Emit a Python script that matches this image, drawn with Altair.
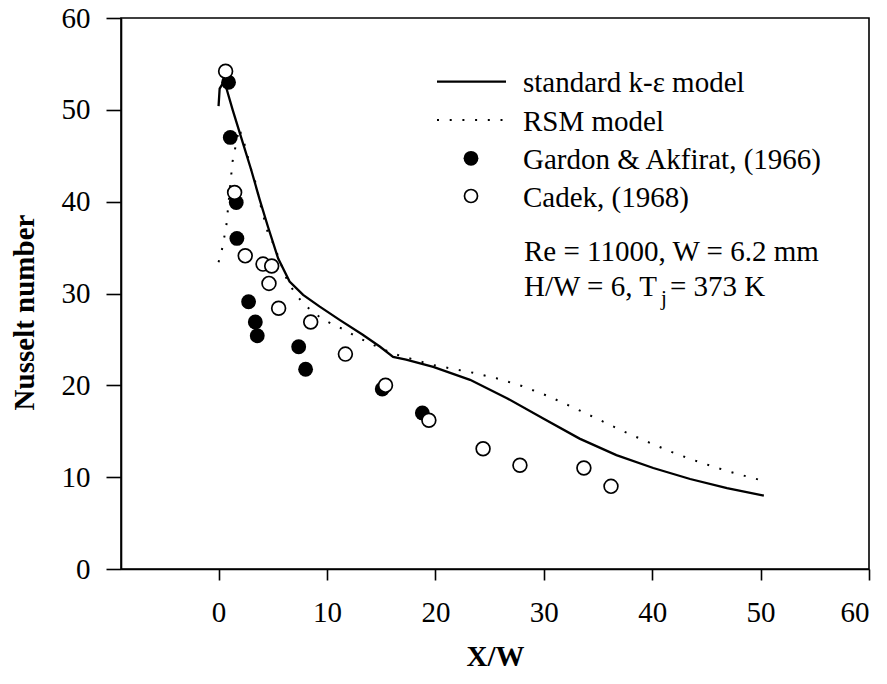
import altair as alt
import pandas as pd

# ---- data ----
ke_x = [0.0, 0.1, 0.35, 0.71, 1.3, 2.24, 3.0, 3.8, 4.55, 5.5, 6.55, 7.8, 9.3, 11.2, 13.3, 14.9,
        16.1, 17.3, 19.8, 23.2, 26.6, 29.95, 33.3, 36.7, 40.1, 43.5, 46.9, 50.3]
ke_nu = [50.4, 52.3, 52.8, 52.4, 50.0, 46.4, 43.5, 40.2, 37.3, 33.8, 31.3, 29.85, 28.6, 27.1, 25.5, 24.2,
         23.1, 22.8, 22.0, 20.6, 18.6, 16.4, 14.2, 12.4, 11.0, 9.8, 8.8, 8.0]

rsm_x = [0.0, 0.3, 0.71, 1.17, 1.26, 1.48, 1.9, 2.46, 3.0, 3.4, 3.9, 4.55, 5.1, 6.4, 7.1, 7.8, 8.7,
         9.6, 10.6, 11.7, 12.7, 15.0, 16.25, 19.73, 23.27, 25.64, 27.98, 30.35, 32.69, 35.03, 37.4,
         39.74, 42.08, 44.41, 46.79, 49.12, 50.32]
rsm_nu = [33.4, 34.7, 37.3, 42.9, 44.2, 45.5, 48.0, 46.0, 43.5, 42.1, 39.5, 36.6, 35.3, 31.2, 30.0, 28.9, 28.0,
          27.2, 26.6, 26.0, 25.3, 24.0, 23.4, 22.22, 21.42, 20.77, 19.93, 18.85, 17.61, 16.3, 14.96,
          13.76, 12.6, 11.62, 10.71, 9.95, 9.59]

gardon_x = [0.92, 1.08, 1.63, 1.69, 2.77, 3.39, 3.57, 7.39, 8.03, 15.1, 18.8]
gardon_nu = [53.0, 47.0, 39.9, 36.0, 29.1, 26.9, 25.4, 24.2, 21.75, 19.6, 17.0]

cadek_x = [0.65, 1.48, 2.46, 4.1, 4.9, 4.65, 5.54, 8.5, 11.7, 15.4, 19.4, 24.4, 27.8, 33.7, 36.2]
cadek_nu = [54.2, 41.0, 34.1, 33.2, 33.0, 31.1, 28.4, 26.9, 23.4, 20.0, 16.2, 13.1, 11.3, 11.0, 9.0]

x_ticks = [0, 10, 20, 30, 40, 50, 60]
y_ticks = [0, 10, 20, 30, 40, 50, 60]

legend_labels = ["standard k-\u03b5 model", "RSM model", "Gardon & Akfirat, (1966)", "Cadek, (1968)"]
note_line1 = "Re = 11000, W = 6.2 mm"
note_line2 = ["H/W = 6, T", "j", "= 373 K"]

FONT = "Liberation Serif"
FS = 29

ke = pd.DataFrame({"x": ke_x, "nu": ke_nu, "o": range(len(ke_x))})
rsm = pd.DataFrame({"x": rsm_x, "nu": rsm_nu, "o": range(len(rsm_x))})
gardon = pd.DataFrame({"x": gardon_x, "nu": gardon_nu})
cadek = pd.DataFrame({"x": cadek_x, "nu": cadek_nu})
one = pd.DataFrame({"k": [0]})


def X():
    return alt.X("x:Q", scale=alt.Scale(domain=[-9, 60], nice=False, zero=False),
                 axis=alt.Axis(values=x_ticks, title="X/W", tickSize=11, labelPadding=41,
                               labelBaseline="alphabetic", titleBaseline="alphabetic",
                               titleY=96, format="d"))


def Y():
    return alt.Y("nu:Q", scale=alt.Scale(domain=[0, 60], nice=False),
                 axis=alt.Axis(values=y_ticks, title="Nusselt number", tickSize=15, labelPadding=16,
                               titleAngle=270, titleBaseline="alphabetic", titleX=-88, titleY=294,
                               titleAlign="center", format="d"))


line_ke = alt.Chart(ke).mark_line(color="black", strokeWidth=2.3).encode(x=X(), y=Y(), order="o:Q")
line_rsm = alt.Chart(rsm).mark_line(color="black", strokeWidth=2, strokeDash=[2, 10.7]).encode(
    x=X(), y=Y(), order="o:Q")
pts_g = alt.Chart(gardon).mark_circle(color="black", size=220, opacity=1).encode(x=X(), y=Y())
pts_c = alt.Chart(cadek).mark_point(shape="circle", filled=True, fill="white", stroke="black",
                                    strokeWidth=1.7, size=190, opacity=1).encode(x=X(), y=Y())

# ---- in-plot legend (pixel layout, offsets from plot origin 121,18) ----
ROW_Y = [81.7, 120, 158.3, 196]
BASE_Y = [92.3, 130.5, 168.8, 207]
TXT_X = 523

leg_ke = alt.Chart(one).mark_rule(color="black", strokeWidth=2.3).encode(
    x=alt.value(437 - 121), x2=alt.value(506 - 121), y=alt.value(ROW_Y[0] - 18))
leg_rsm = alt.Chart(one).mark_rule(color="black", strokeWidth=2, strokeDash=[2, 10.7]).encode(
    x=alt.value(437 - 121), x2=alt.value(506 - 121), y=alt.value(ROW_Y[1] - 18))
leg_g = alt.Chart(one).mark_circle(color="black", size=220, opacity=1).encode(
    x=alt.value(471 - 121), y=alt.value(ROW_Y[2] - 18))
leg_c = alt.Chart(one).mark_point(shape="circle", filled=True, fill="white", stroke="black",
                                  strokeWidth=1.7, size=170, opacity=1).encode(
    x=alt.value(471 - 121), y=alt.value(ROW_Y[3] - 18))


def txt(s, x, y, size=FS):
    return alt.Chart(one).mark_text(text=s, font=FONT, fontSize=size, fontWeight="normal", color="black",
                                    align="left", baseline="alphabetic").encode(
        x=alt.value(x - 121), y=alt.value(y - 18))


texts = [txt(lab, TXT_X, by) for lab, by in zip(legend_labels, BASE_Y)]
texts.append(txt(note_line1, 524, 261))
texts.append(txt(note_line2[0], 524, 296))
texts.append(txt(note_line2[1], 661, 304.5, 21))
texts.append(txt(note_line2[2], 670, 296))

chart = alt.layer(line_rsm, line_ke, pts_g, pts_c, leg_ke, leg_rsm, leg_g, leg_c, *texts).properties(
    width=748, height=551,
    autosize=alt.AutoSizeParams(type="none"),
    padding={"left": 121, "top": 18, "right": 18, "bottom": 115},
    background="white",
).configure_view(stroke="black", strokeWidth=1.6).configure_axis(
    grid=False, domainColor="black", domainWidth=1.6, tickColor="black", tickWidth=1.6,
    labelFont=FONT, labelFontSize=FS, labelColor="black",
    titleFont=FONT, titleFontSize=FS, titleFontWeight="bold", titleColor="black",
)

chart.save("out.html", embed_options={"renderer": "svg", "actions": False})
